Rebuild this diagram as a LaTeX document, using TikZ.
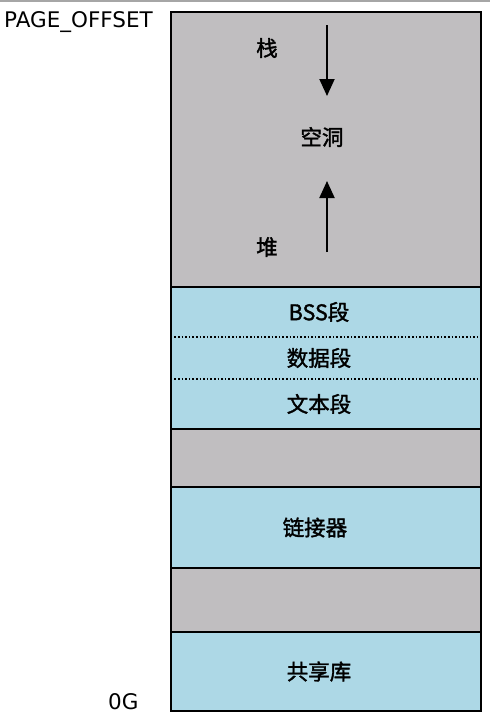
\documentclass[tikz,border=0pt]{standalone}
\usepackage{fontspec}
\setmainfont{DejaVu Sans}
\newfontfamily\cjk[RawFeature={embolden=1.6}]{Noto Sans CJK SC}
\usetikzlibrary{arrows.meta}

\definecolor{holegray}{RGB}{192,190,192}
\definecolor{usedblue}{RGB}{173,216,230}

\begin{document}
\begin{tikzpicture}[
    x=1pt, y=-1pt,
    seg/.style={draw=black, line width=2pt, minimum width=310pt, inner sep=0pt,
        font=\cjk\fontsize{21.5}{24}\selectfont},
    hole/.style={seg, fill=holegray},
    used/.style={seg, fill=usedblue},
    part/.style={fill=usedblue, minimum width=310pt, inner sep=0pt,
        font=\cjk\fontsize{21.5}{24}\selectfont},
    lbl/.style={font=\cjk\fontsize{21.5}{24}\selectfont, inner sep=0pt},
    addr/.style={font=\fontsize{21.5}{24}\selectfont, inner sep=0pt, anchor=west},
    growarrow/.style={-{Triangle[length=17pt,width=15pt]}, line width=2pt}
]
\useasboundingbox (0,0) rectangle (495,726);

% thin rule along the top edge
\coordinate (ruleL) at (0,1);
\coordinate (ruleR) at (490,1);
\draw[gray!70, line width=1.2pt] (ruleL) -- (ruleR);

% address labels
\node[addr] (pageoff) at (4,22) {PAGE\_OFFSET};
\node[addr] (zero)    at (108,702) {0G};

% memory segments, top to bottom
\node[hole, minimum height=275pt] (gap)    at (326,149.5) {};
\node[part, minimum height=50pt]  (bss)    at (326,312)   {\hspace*{-14pt}BSS段};
\node[part, minimum height=42pt]  (data)   at (326,358)   {\hspace*{-14pt}数据段};
\node[part, minimum height=50pt]  (text)   at (326,404)   {\hspace*{-14pt}文本段};
\node[hole, minimum height=58pt]  (gap2)   at (326,458)   {};
\node[used, minimum height=81pt]  (linker) at (326,527.5) {\hspace*{-22pt}链接器};
\node[hole, minimum height=64pt]  (gap3)   at (326,600)   {};
\node[used, minimum height=79pt]  (shlib)  at (326,671.5) {\hspace*{-14pt}共享库};

% frame and dotted dividers of the program image
\draw[line width=2pt] (bss.north west) rectangle (text.south east);
\draw[dash pattern=on 1.6pt off 2pt, line width=2pt] (bss.south west) -- (bss.south east);
\draw[dash pattern=on 1.6pt off 2pt, line width=2pt] (data.south west) -- (data.south east);

% stack and heap growing into the hole
\node[lbl] (stack) at (267,48)  {栈};
\node[lbl] (hole)  at (322,137) {空洞};
\node[lbl] (heap)  at (267,247) {堆};
\coordinate (stacktop) at (327,25);
\coordinate (stackend) at (327,96);
\coordinate (heapbot)  at (327,252);
\coordinate (heapend)  at (327,181);
\draw[growarrow] (stacktop) -- (stackend);
\draw[growarrow] (heapbot) -- (heapend);

\end{tikzpicture}
\end{document}
